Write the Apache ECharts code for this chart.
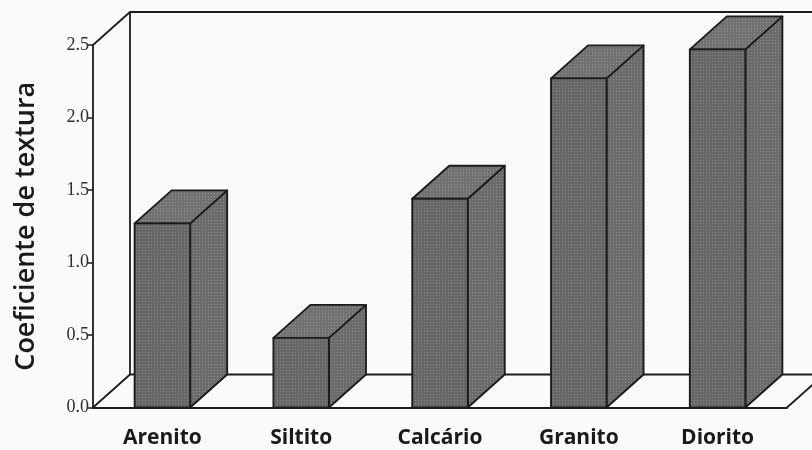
<!DOCTYPE html>
<html>
<head>
<meta charset="utf-8">
<script src="https://cdn.jsdelivr.net/npm/echarts@6/dist/echarts.min.js"></script>
<style>
  html, body { margin: 0; padding: 0; background: #fafafa; }
  #chart { width: 812px; height: 450px; }
</style>
</head>
<body>
<div id="chart"></div>
<script>
// Rock types and their texture coefficient
const categories = ['Arenito', 'Siltito', 'Calcário', 'Granito', 'Diorito'];
const values = [1.27, 0.48, 1.44, 2.27, 2.47];
const yMin = 0, yMax = 2.5, yStep = 0.5;

// Oblique depth of the pseudo-3D box (pixels)
const DX = 37, DY = -33;
const EDGE = '#1c1c1c';

// Halftone-like dotted fill for the box faces
function dotPattern(base, dot) {
  const c = document.createElement('canvas');
  c.width = 3; c.height = 3;
  const g = c.getContext('2d');
  g.fillStyle = base; g.fillRect(0, 0, 3, 3);
  g.fillStyle = dot; g.fillRect(1, 1, 1, 1);
  return { image: c, repeat: 'repeat' };
}
const FRONT = dotPattern('#676767', '#8a8a8a');
const SIDE = dotPattern('#6b6b6b', '#8e8e8e');
const TOP = dotPattern('#717171', '#939393');

const chart = echarts.init(document.getElementById('chart'));

function wallRender(params, api) {
  const band = api.size([1, 0])[0];
  const c0 = api.coord([0, yMin]);
  const cTop = api.coord([0, yMax]);
  const left = c0[0] - band / 2;
  const right = left + band * categories.length;
  const bottom = c0[1];
  const top = cTop[1];
  const ls = { stroke: EDGE, lineWidth: 1.8, fill: null };
  return {
    type: 'group',
    children: [
      { type: 'polyline', shape: { points: [[left, top], [left + DX, top + DY], [2000, top + DY]] }, style: ls },
      { type: 'line', shape: { x1: left + DX, y1: top + DY, x2: left + DX, y2: bottom + DY }, style: ls },
      { type: 'polyline', shape: { points: [[left, bottom], [left + DX, bottom + DY], [2000, bottom + DY]] }, style: ls },
      { type: 'line', shape: { x1: right, y1: bottom, x2: right + DX, y2: bottom + DY }, style: ls }
    ]
  };
}

function barRender(params, api) {
  const i = api.value(0);
  const base = api.coord([i, 0]);
  const top = api.coord([i, api.value(1)]);
  const w = api.size([1, 0])[0] * 0.4;
  const x0 = base[0] - w / 2, x1 = base[0] + w / 2;
  const y0 = base[1], y1 = top[1];
  const st = (fill) => ({ fill: fill, stroke: EDGE, lineWidth: 1.9, lineJoin: 'round' });
  return {
    type: 'group',
    children: [
      { type: 'polygon', shape: { points: [[x1, y0], [x1 + DX, y0 + DY], [x1 + DX, y1 + DY], [x1, y1]] }, style: st(SIDE) },
      { type: 'polygon', shape: { points: [[x0, y1], [x0 + DX, y1 + DY], [x1 + DX, y1 + DY], [x1, y1]] }, style: st(TOP) },
      { type: 'rect', shape: { x: x0, y: y1, width: w, height: y0 - y1 }, style: st(FRONT) }
    ]
  };
}

chart.setOption({
  backgroundColor: '#fafafa',
  animation: false,
  grid: { left: 93, width: 694, top: 45, height: 362.5 },
  xAxis: {
    type: 'category',
    data: categories,
    axisLine: { show: true, lineStyle: { color: EDGE, width: 1.8 } },
    axisTick: { show: false },
    axisLabel: {
      margin: 20,
      color: '#1a1a1a',
      fontFamily: 'Open Sans',
      fontWeight: 'bold',
      fontSize: 21
    }
  },
  yAxis: {
    type: 'value',
    min: yMin,
    max: yMax,
    interval: yStep,
    name: 'Coeficiente de textura',
    nameLocation: 'middle',
    nameGap: 53,
    nameTextStyle: { fontFamily: 'Open Sans', fontSize: 27, color: '#1a1a1a', fontWeight: 600 },
    axisLine: { show: true, lineStyle: { color: EDGE, width: 1.8 } },
    axisTick: { show: true, length: 5, lineStyle: { color: EDGE, width: 1.5 } },
    splitLine: { show: false },
    axisLabel: {
      margin: 4,
      color: '#2e2e2e',
      fontFamily: 'Liberation Serif',
      fontSize: 18,
      formatter: (v) => v.toFixed(1)
    }
  },
  series: [
    {
      type: 'custom',
      renderItem: wallRender,
      data: [[0, 0]],
      z: 1,
      silent: true
    },
    {
      type: 'custom',
      renderItem: barRender,
      data: values.map((v, i) => [i, v]),
      encode: { x: 0, y: 1 },
      z: 3
    }
  ]
});
</script>
</body>
</html>
